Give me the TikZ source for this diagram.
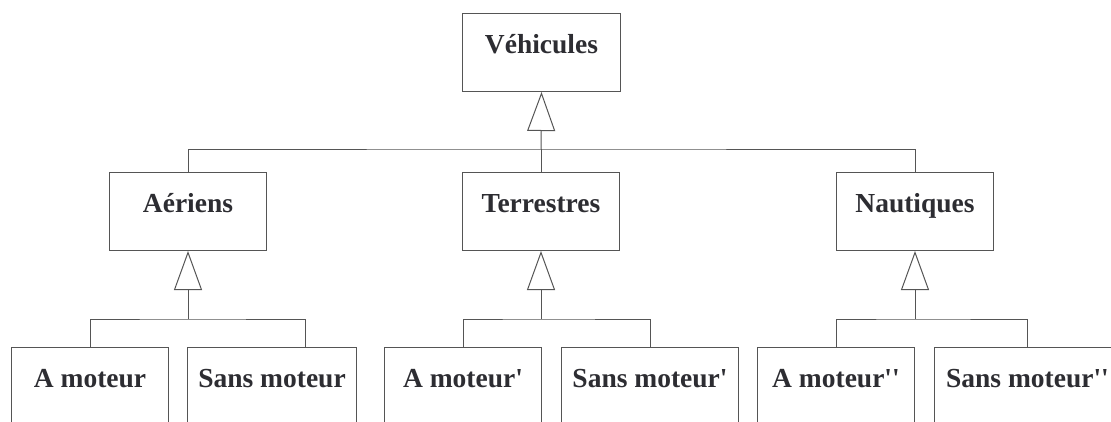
\documentclass[tikz,border=0pt]{standalone}
\usepackage{fontspec}
\setmainfont{Liberation Serif}
\usetikzlibrary{arrows.meta}
\definecolor{traitgris}{RGB}{85,85,85}
\definecolor{textegris}{RGB}{45,45,50}
\newcommand{\prim}{\textquotesingle}
\begin{document}
\begin{tikzpicture}[x=1pt,y=-1pt,
  classe/.style={draw=traitgris,line width=1pt,anchor=north west,inner sep=0pt,
    text height=40pt,text depth=38pt,text=textegris,
    font=\fontsize{27.5}{33}\selectfont\bfseries},
  lien/.style={draw=traitgris,line width=1pt},
  herite/.style={lien,-{Triangle[length=39pt,width=28pt,fill=white]}}]
\fill[white] (0,0) rectangle (1111,421);
\useasboundingbox (0,0) rectangle (1111,421);

\node[classe,minimum width=158] (vehicules) at (462,13) {Véhicules};

\node[classe,minimum width=157] (aeriens) at (109,172) {Aériens};
\node[classe,minimum width=157] (terrestres) at (462,172) {Terrestres};
\node[classe,minimum width=157] (nautiques) at (836,172) {Nautiques};

\node[classe,minimum width=157] (amoteurA) at (11,347) {A moteur};
\node[classe,minimum width=169] (smoteurA) at (187,347) {Sans moteur};
\node[classe,minimum width=157] (amoteurT) at (384,347) {A moteur\prim};
\node[classe,minimum width=177] (smoteurT) at (561,347) {Sans moteur\prim};
\node[classe,minimum width=157] (amoteurN) at (757,347) {A moteur\prim\prim};
\node[classe,minimum width=186] (smoteurN) at (934,347) {Sans moteur\prim\prim};

\coordinate (j0) at ([yshift=23pt]terrestres.north);
\draw[herite] (j0) -- (vehicules.south);
\draw[lien] (aeriens.north) |- (j0) -| (nautiques.north);
\draw[lien] (j0) -- (terrestres.north);

\path (aeriens.south) ++(0,68) coordinate (jA);
\draw[herite] (jA) -- (aeriens.south);
\draw[lien] (amoteurA.north) |- (jA) -| ([xshift=33.5pt]smoteurA.north);

\path (terrestres.south) ++(0,68) coordinate (jT);
\draw[herite] (jT) -- (terrestres.south);
\draw[lien] (amoteurT.north) |- (jT) -| (smoteurT.north);

\path (nautiques.south) ++(0,68) coordinate (jN);
\draw[herite] (jN) -- (nautiques.south);
\draw[lien] (amoteurN.north) |- (jN) -| (smoteurN.north);
\end{tikzpicture}
\end{document}
